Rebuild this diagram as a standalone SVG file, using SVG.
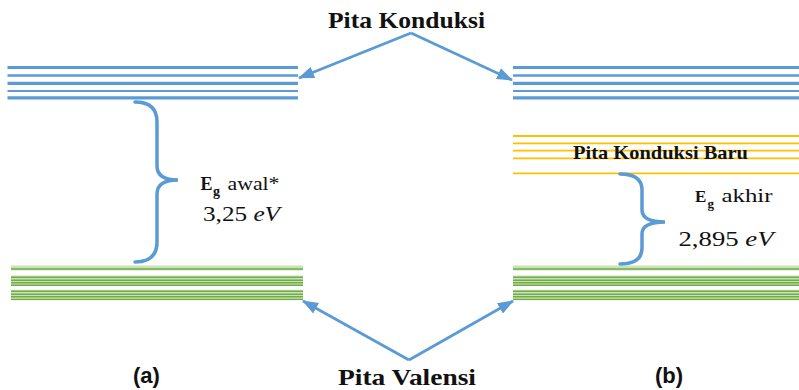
<svg xmlns="http://www.w3.org/2000/svg" width="799" height="390" viewBox="0 0 799 390">
<style>
.blue{stroke:#5b9bd5;fill:none}
.yel{stroke:#ffc000;stroke-width:1.8;fill:none}
.gl{fill:#c9e2b8}
.gd{stroke:#70ad47;stroke-width:1.4;fill:none}
.brace{stroke:#5b9bd5;stroke-width:3.5;fill:none;stroke-linecap:round}
.arrow{stroke:#5b9bd5;stroke-width:2.8;fill:none}
.lbl{font-family:"Liberation Serif","Times New Roman",serif;fill:#111}
.b{font-weight:bold}
.sans{font-family:"Liberation Sans",Arial,sans-serif;font-weight:bold;fill:#111}
</style>
<defs>
<marker id="ah" viewBox="0 0 16 12" refX="15" refY="6" markerWidth="16" markerHeight="12" markerUnits="userSpaceOnUse" orient="auto">
<path d="M0,0 L16,6 L0,12 z" fill="#5b9bd5"/>
</marker>
</defs>

<g id="band-conduction-a">
<line class="blue" x1="7.5" y1="67.5" x2="298" y2="67.5" stroke-width="3"/>
<line class="blue" x1="7.5" y1="75.6" x2="298" y2="75.6" stroke-width="2.5"/>
<line class="blue" x1="7.5" y1="83.3" x2="298" y2="83.3" stroke-width="3.2"/>
<line class="blue" x1="7.5" y1="91" x2="298" y2="91" stroke-width="2"/>
<line class="blue" x1="7.5" y1="97.8" x2="298" y2="97.8" stroke-width="3.2"/>
</g>
<g id="band-conduction-b">
<line class="blue" x1="513" y1="67.5" x2="799" y2="67.5" stroke-width="3"/>
<line class="blue" x1="513" y1="75.6" x2="799" y2="75.6" stroke-width="2.5"/>
<line class="blue" x1="513" y1="83.3" x2="799" y2="83.3" stroke-width="3.2"/>
<line class="blue" x1="513" y1="91" x2="799" y2="91" stroke-width="2"/>
<line class="blue" x1="513" y1="97.8" x2="799" y2="97.8" stroke-width="3.2"/>
</g>
<g id="band-new-conduction">
<line class="yel" x1="513" y1="136" x2="799" y2="136"/>
<line class="yel" x1="513" y1="143.3" x2="799" y2="143.3"/>
<line class="yel" x1="513" y1="150.7" x2="799" y2="150.7"/>
<line class="yel" x1="513" y1="158.3" x2="799" y2="158.3"/>
<line class="yel" x1="513" y1="173.3" x2="799" y2="173.3"/>
<text class="lbl b" x="573" y="159" font-size="19" textLength="175" lengthAdjust="spacingAndGlyphs">Pita Konduksi Baru</text>
</g>
<g id="band-valence-a">
<rect class="gl" x="11" y="265.5" width="292" height="5"/>
<rect class="gl" x="11" y="275.5" width="292" height="10.5"/>
<rect class="gl" x="11" y="289.8" width="292" height="10.5"/>
<line class="gd" x1="11" y1="269" x2="303" y2="269"/>
<line class="gd" x1="11" y1="277.3" x2="303" y2="277.3"/>
<line class="gd" x1="11" y1="280.2" x2="303" y2="280.2"/>
<line class="gd" x1="11" y1="282.8" x2="303" y2="282.8"/>
<line class="gd" x1="11" y1="285.2" x2="303" y2="285.2"/>
<line class="gd" x1="11" y1="291.2" x2="303" y2="291.2"/>
<line class="gd" x1="11" y1="294.2" x2="303" y2="294.2"/>
<line class="gd" x1="11" y1="296.8" x2="303" y2="296.8"/>
<line class="gd" x1="11" y1="299.4" x2="303" y2="299.4"/>
</g>
<g id="band-valence-b">
<rect class="gl" x="513" y="265.5" width="286" height="5"/>
<rect class="gl" x="513" y="275.5" width="286" height="10.5"/>
<rect class="gl" x="513" y="289.8" width="286" height="10.5"/>
<line class="gd" x1="513" y1="269" x2="799" y2="269"/>
<line class="gd" x1="513" y1="277.3" x2="799" y2="277.3"/>
<line class="gd" x1="513" y1="280.2" x2="799" y2="280.2"/>
<line class="gd" x1="513" y1="282.8" x2="799" y2="282.8"/>
<line class="gd" x1="513" y1="285.2" x2="799" y2="285.2"/>
<line class="gd" x1="513" y1="291.2" x2="799" y2="291.2"/>
<line class="gd" x1="513" y1="294.2" x2="799" y2="294.2"/>
<line class="gd" x1="513" y1="296.8" x2="799" y2="296.8"/>
<line class="gd" x1="513" y1="299.4" x2="799" y2="299.4"/>
</g>

<g id="gap-a">
<path class="brace" d="M135,102 Q157,102 157,122 L157,166 Q157,180 178,180 Q157,180 157,194 L157,242 Q157,262 135,262"/>
<text class="lbl b" x="200.5" y="190" font-size="18">E</text>
<text class="lbl b" x="213" y="196" font-size="14">g</text>
<text class="lbl" x="227.5" y="190" font-size="18" textLength="52" lengthAdjust="spacingAndGlyphs">awal*</text>
<text class="lbl" x="203" y="221" font-size="22" textLength="77" lengthAdjust="spacingAndGlyphs">3,25 <tspan font-style="italic">eV</tspan></text>
</g>
<g id="gap-b">
<path class="brace" d="M620,174 Q642,174 642,190 L642,210 Q642,222 665,222 Q642,222 642,234 L642,248 Q642,264 620,264"/>
<text class="lbl b" x="695" y="202" font-size="17">E</text>
<text class="lbl b" x="707.5" y="208" font-size="13">g</text>
<text class="lbl" x="721.5" y="202" font-size="18" textLength="51" lengthAdjust="spacingAndGlyphs">akhir</text>
<text class="lbl" x="678.5" y="246" font-size="22" textLength="95" lengthAdjust="spacingAndGlyphs">2,895 <tspan font-style="italic">eV</tspan></text>
</g>

<g id="label-conduction">
<text class="lbl b" x="328" y="28" font-size="24" textLength="157" lengthAdjust="spacingAndGlyphs">Pita Konduksi</text>
</g>
<g id="label-valence">
<text class="lbl b" x="338" y="385" font-size="24" textLength="138" lengthAdjust="spacingAndGlyphs">Pita Valensi</text>
</g>
<g id="label-a"><text class="sans" x="133" y="383" font-size="22">(a)</text></g>
<g id="label-b"><text class="sans" x="655" y="383" font-size="22">(b)</text></g>

<g id="connectors">
<line class="arrow" x1="411" y1="33" x2="299" y2="78" marker-end="url(#ah)"/>
<line class="arrow" x1="411" y1="33" x2="512" y2="80" marker-end="url(#ah)"/>
<line class="arrow" x1="409" y1="360" x2="303" y2="301" marker-end="url(#ah)"/>
<line class="arrow" x1="409" y1="360" x2="513" y2="301" marker-end="url(#ah)"/>
</g>
</svg>
